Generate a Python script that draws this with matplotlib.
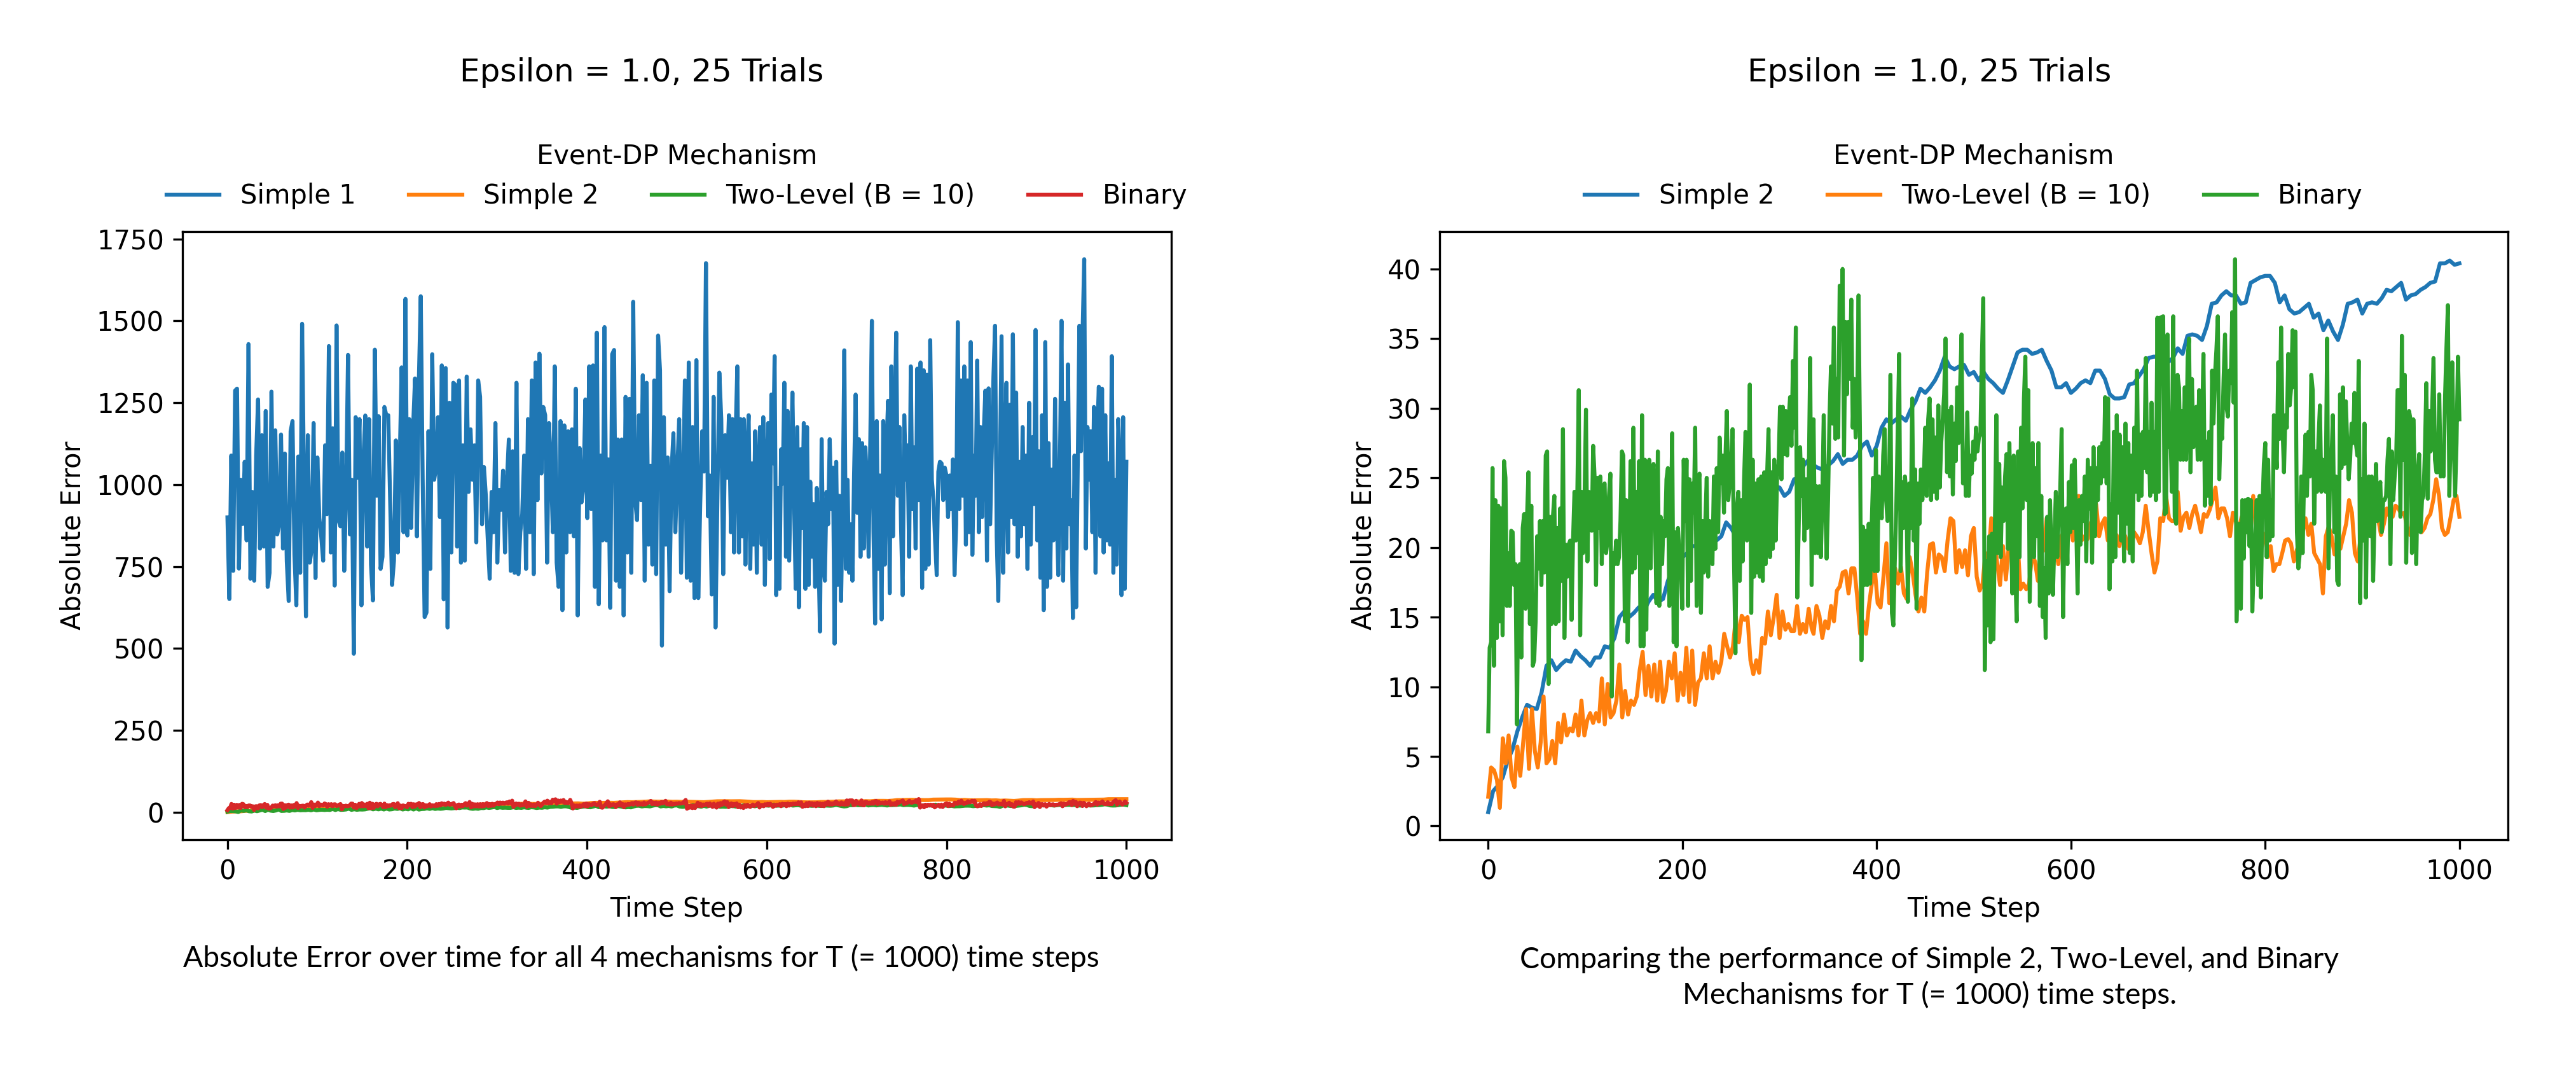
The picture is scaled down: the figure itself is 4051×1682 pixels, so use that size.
import numpy as np
import matplotlib.pyplot as plt

# Simple 1 (left panel only), read in two pieces: t 0-560 and t 560-1000
simple1_a = [900, 651, 1089, 737, 1287, 1293, 744, 1015, 880, 1070, 830, 1429, 713, 978, 707, 1089, 1260, 805,
             1151, 811, 1225, 688, 731, 1284, 811, 1166, 848, 879, 1153, 805, 1095, 766, 645, 1163, 1194, 787,
             632, 1086, 731, 1491, 1003, 598, 1151, 762, 803, 1188, 715, 1083, 898, 842, 768, 1120, 910, 1423,
             793, 1172, 692, 1486, 892, 873, 1098, 737, 978, 1396, 848, 1015, 484, 1206, 1021, 1200, 632, 1070,
             1211, 811, 1200, 756, 647, 1412, 966, 1209, 743, 780, 1237, 1212, 1212, 953, 694, 768, 1135, 793,
             1070, 1358, 855, 1567, 845, 1200, 868, 1176, 1324, 842, 1318, 1575, 1015, 596, 610, 1163, 743, 1398,
             1015, 1052, 1206, 901, 1364, 650, 1356, 564, 1250, 793, 1311, 1305, 811, 1318, 762, 1120, 768, 1330,
             978, 1169, 1015, 1120, 824, 1318, 1268, 879, 1054, 966, 833, 713, 978, 855, 1188, 762, 984, 923,
             1043, 793, 1009, 1138, 737, 1102, 731, 1311, 727, 855, 910, 1089, 743, 1200, 855, 1318, 727, 1373,
             953, 1400, 1034, 1237, 1212, 762, 1188, 1058, 855, 1361, 762, 688, 1194, 617, 1181, 793, 1163, 855,
             1169, 842, 1293, 601, 1112, 946, 994, 1260, 898, 1361, 926, 1364, 688, 1464, 635, 1089, 830, 1481,
             830, 1077, 624, 1398, 1411, 707, 1138, 688, 1138, 601, 1268, 793, 1262, 731, 1558, 953, 892, 1212,
             953, 1334, 707, 1311, 817, 1058, 756, 1318, 727, 1455, 1349, 509, 1206, 817, 1083, 675, 1040, 1157,
             855, 1040, 1200, 731, 997, 1318, 716, 1373, 707, 1176, 654, 1380, 654, 941, 1163, 1040, 1676, 904,
             1028, 665, 1268, 564, 966, 1342, 1200, 727, 1151, 1021, 1212, 879]
simple1_b = [855, 1200, 793, 1163, 1361, 793, 1200, 842, 1200, 756, 1102, 1212, 743, 1065, 817, 1163, 731, 1040,
             1176, 817, 1206, 694, 1065, 1188, 773, 1275, 1065, 1392, 663, 990, 682, 1108, 1003, 1311, 780, 1225,
             768, 1028, 1281, 953, 682, 1176, 626, 1108, 868, 1188, 682, 1176, 694, 1009, 780, 941, 688, 990,
             793, 552, 1139, 756, 707, 978, 879, 1139, 926, 1052, 515, 1070, 694, 966, 645, 932, 1410, 743,
             1015, 731, 879, 707, 1028, 1275, 914, 1139, 780, 1127, 805, 1114, 1003, 780, 1127, 1500, 855, 576,
             1194, 743, 1028, 589, 1194, 756, 1114, 1256, 669, 1361, 842, 1176, 1464, 966, 1176, 868, 663, 1212,
             1015, 1120, 780, 1361, 926, 1114, 805, 1354, 953, 1373, 685, 1349, 743, 1336, 756, 1441, 1015, 953,
             830, 724, 1040, 1070, 1065, 953, 1052, 1028, 901, 1028, 926, 1077, 724, 879, 1496, 926, 1318, 966,
             1361, 817, 1318, 855, 1435, 786, 1089, 966, 1379, 855, 1176, 901, 1157, 1287, 768, 1294, 879, 1102,
             1330, 1485, 842, 645, 1052, 1453, 731, 1065, 1311, 793, 1244, 901, 1459, 879, 1281, 780, 1070, 842,
             1176, 879, 1089, 743, 1250, 817, 1145, 941, 1472, 830, 1102, 716, 1212, 617, 1435, 688, 1127, 716,
             1046, 830, 1262, 926, 724, 1065, 1500, 707, 1250, 805, 1367, 879, 953, 593, 1089, 626, 1065, 1485,
             1102, 1466, 1688, 805, 1176, 1015, 1163, 855, 1237, 731, 1151, 1299, 842, 1293, 793, 1212, 830, 1065,
             817, 1392, 731, 1015, 756, 1200, 1052, 663, 1206, 682, 1070]

# Simple 2, every 5 time steps (t = 0, 5, ..., 1000)
simple2 = [1.0, 2.5, 2.9, 3.5, 4.7, 5.5, 6.8, 7.8, 8.7, 8.5, 8.4, 9.6, 11.5, 11.9, 11.2, 11.6, 11.9, 11.8, 12.6, 12.2,
           11.9, 11.5, 12.1, 12.1, 12.9, 12.8, 13.5, 15.0, 15.4, 15.0, 15.3, 15.7, 15.4, 16.1, 16.6, 16.1, 16.3, 17.6,
           18.5, 18.5, 19.3, 19.6, 20.1, 20.1, 20.3, 20.5, 20.5, 20.5, 20.8, 21.8, 21.4, 20.8, 20.8, 20.6, 20.8, 23.1,
           23.7, 24.1, 24.6, 24.4, 24.3, 23.7, 24.0, 24.9, 25.0, 25.9, 26.3,
           25.9, 25.7, 25.6, 25.9, 26.2, 26.7, 26.0, 26.3, 26.3, 26.6, 27.3, 27.6, 26.6, 27.3, 28.6, 29.2, 28.9, 29.2,
           29.4, 29.1, 29.9, 30.5, 31.4, 31.1, 31.5, 32.0, 32.7, 33.7, 33.0, 32.8, 33.0, 33.1, 32.4, 32.6, 32.0, 32.6,
           32.1, 31.8, 31.4, 31.1, 32.0, 33.0, 34.0, 34.2, 34.2, 33.9, 34.0, 34.2, 33.4, 32.7, 31.5, 31.5, 31.8, 31.1,
           31.4, 31.8, 32.0, 31.8, 32.7, 32.7, 32.1, 31.0, 30.7, 30.7, 30.8, 31.7, 31.8, 32.3, 32.8, 33.6, 33.7, 33.7,
           33.7, 33.3, 33.6, 34.3, 33.9, 35.2, 35.3, 35.2, 34.9, 35.9, 37.5, 37.6, 38.1, 38.4, 38.1, 38.1, 37.5, 37.6,
           39.0, 39.2, 39.4, 39.5, 39.5, 39.0, 37.6, 38.1, 37.1, 36.8, 36.9, 37.2, 37.5, 36.5, 36.8, 35.6, 36.3, 35.5,
           34.9, 36.0, 37.5, 37.6, 37.8, 36.8, 37.5, 37.6, 37.5, 37.9, 38.5, 38.4, 38.7, 39.0, 37.8, 38.1, 38.2, 38.5,
           38.7, 39.0, 39.1, 40.4, 40.4, 40.6, 40.3, 40.4]

# Two-Level (B = 10), about every 3 steps, in three pieces
twolevel_a = [2.1, 4.2, 4.0, 3.3, 1.3, 6.3, 4.5, 6.5, 3.5, 2.8, 5.7, 3.6, 6.0, 8.4, 4.1, 8.4, 5.4, 4.2, 6.0, 9.3,
              4.5, 4.8, 6.1, 4.5, 7.4, 6.0, 8.0, 6.5, 7.0, 6.8, 8.0, 6.5, 9.0, 6.5, 7.6, 8.1, 7.4, 8.1, 7.5, 10.6,
              7.3, 10.2, 7.8, 8.1, 9.0, 11.6, 7.8, 9.7, 8.0, 9.0, 8.7, 9.3, 11.2, 12.5, 9.4, 11.5, 9.3, 11.6, 9.0, 11.8,
              8.9, 9.7, 11.8, 10.6, 12.4, 9.0, 11.0, 9.4, 12.8, 8.9, 12.6, 8.7, 10.3, 10.6, 12.4, 10.6, 12.9, 10.6,
              11.8, 11.0, 11.8, 13.8, 12.9, 12.1, 12.9, 15.0, 13.2, 15.1, 14.8, 15.0, 11.9, 10.9, 11.9, 11.0, 13.5,
              13.1, 15.4, 13.7, 15.0, 16.6, 13.5, 15.4, 14.1, 14.5, 14.0, 14.0, 15.8, 13.8, 14.5, 13.9, 15.6, 14.2]
twolevel_b = [13.8, 15.8, 15.1, 13.5, 14.7, 14.2, 15.8, 14.7, 16.9, 17.2, 18.2, 18.3, 16.7, 18.5, 18.5, 16.4, 13.8,
              14.7, 13.8, 15.8, 17.4, 18.5, 16.0, 15.7, 17.9, 20.3, 16.0, 17.6, 18.5, 17.4, 18.6, 16.7, 16.3, 19.3,
              18.2, 16.6, 15.4, 16.4, 15.4, 18.2, 20.2, 20.3, 18.2, 19.5, 19.3, 18.3, 20.5, 22.1, 21.9, 18.2, 19.8,
              18.6, 19.8, 18.0, 20.8, 21.4, 17.9, 16.9, 17.4, 19.6, 19.0, 22.1, 20.5, 18.9, 17.3, 20.1, 17.7, 20.1,
              21.7, 19.3, 20.5, 17.0, 17.4, 17.0, 17.4, 19.5, 19.0, 17.6, 19.6, 19.8, 22.1, 19.9, 18.5, 20.2, 18.8,
              20.8, 21.1, 20.5, 21.7, 20.5, 21.9, 23.7, 20.5, 20.8, 20.6, 21.7, 22.2, 23.1, 20.8, 21.7, 22.1, 20.5,
              20.8, 20.8, 20.9, 20.1, 21.2, 20.8, 19.9, 19.8, 21.1, 20.8, 20.3, 21.1, 23.0, 21.2, 19.6, 18.2, 19.0, 22.1]
twolevel_c = [21.9, 23.7, 22.1, 21.9, 21.9, 24.0, 21.2, 22.2, 22.5, 21.4, 22.4, 23.0, 22.1, 21.1, 22.4, 22.2, 22.7,
              23.4, 24.3, 22.1, 22.8, 22.8, 22.1, 20.8, 22.5, 21.9, 21.2, 22.2, 21.4, 21.2, 21.7, 23.7, 21.1, 21.1,
              21.1, 20.8, 19.3, 20.1, 18.3, 18.8, 18.8, 19.6, 20.5, 20.6, 20.3, 19.0, 19.8, 20.5, 21.1, 22.1, 20.9,
              21.7, 19.6, 19.2, 18.8, 16.7, 20.8, 21.5, 20.8, 19.5, 20.5, 19.9, 20.8, 21.7, 23.4, 22.5, 19.6, 19.0,
              20.8, 21.4, 20.8, 21.7, 21.9, 22.5, 22.1, 20.9, 21.7, 22.8, 22.2, 22.2, 23.0, 22.8, 22.4, 22.5, 21.4,
              20.9, 22.4, 21.8, 21.4, 21.1, 21.4, 22.1, 22.4, 23.4, 24.9, 23.7, 21.4, 20.9, 21.1, 22.2, 23.4, 23.7, 22.2]

# Binary, roughly every 1.5 steps, in three pieces
binary_a = [6.8, 12.8, 13.2, 25.7, 11.5, 23.4, 13.5, 23.0, 14.7, 22.8, 13.7, 26.2, 25.0, 15.8, 19.6, 15.8, 21.2, 21.1,
            17.3, 18.8, 7.3, 18.5, 18.8, 12.1, 21.4, 22.4, 15.6, 22.2, 25.4, 14.5, 23.0, 11.5, 11.9, 14.7, 20.8, 18.5,
            21.9, 17.3, 21.9, 18.2, 26.6, 26.9, 10.2, 22.2, 14.5, 22.2, 23.7, 14.5, 21.4, 14.7, 22.8, 17.6, 28.5, 13.5,
            20.2, 17.9, 20.2, 20.5, 14.8, 20.5, 24.0, 20.5, 24.0, 31.3, 13.7, 24.0, 19.6, 23.4, 29.9, 19.0, 24.0, 22.5,
            21.2, 27.3, 25.1, 17.3, 25.0, 21.4, 25.1, 18.8, 24.4, 24.6, 19.6, 20.5, 23.7, 25.3, 9.3, 19.6, 18.8, 20.5,
            18.8, 19.3, 21.9, 26.9, 26.6, 14.7, 23.4, 13.2, 18.2, 26.2, 18.2, 28.6, 18.5, 24.0, 19.6, 26.2, 12.9, 29.5,
            12.9, 26.3, 14.1, 23.7, 26.3, 18.5, 24.6, 26.0, 22.8, 16.0, 26.9, 15.8, 22.2, 18.8, 21.9, 20.8, 24.9, 25.7,
            15.8, 21.4, 28.2, 13.2, 21.1, 12.9, 21.4, 19.6, 18.8, 15.6, 26.3, 21.9, 26.3, 15.8, 24.9, 17.6, 24.6, 22.5,
            28.6, 15.8, 24.6, 25.3, 15.3, 21.9, 18.2, 21.7, 25.0, 17.9, 21.9, 20.8, 18.8, 25.1, 19.9, 25.7, 21.1, 27.9,
            24.6, 26.6, 22.5, 26.3, 29.8, 23.4, 24.6, 26.3, 28.5, 19.0, 12.4, 22.8, 24.0, 17.6, 23.4, 19.0, 24.9, 28.3,
            20.5, 23.4, 31.7, 15.3, 26.3, 17.9, 24.6, 18.2, 24.9, 17.9, 25.1, 17.6, 25.4, 18.8, 25.1, 28.5, 19.3, 25.4,
            19.9, 26.3, 20.5, 25.1, 26.0, 30.1, 24.9, 30.1, 26.7, 29.8, 26.6, 29.2, 30.8, 27.3, 33.4, 28.6, 35.8, 16.4,
            21.4, 27.2, 23.7, 26.3, 20.5, 24.9, 21.4, 25.1, 33.6, 17.3]
binary_b = [29.2, 19.6, 24.4, 19.6, 24.4, 19.3, 23.4, 29.5, 23.4, 19.2, 23.4, 29.5, 33.0, 28.9, 35.8, 27.8, 32.1, 27.9,
            38.8, 35.0, 40.0, 26.6, 36.2, 31.0, 36.2, 32.1, 37.8, 28.6, 32.1, 27.9, 30.1, 38.1, 28.1, 11.9, 21.5, 17.3,
            21.2, 17.3, 21.7, 17.4, 21.4, 25.0, 18.3, 27.0, 18.3, 25.1, 23.7, 22.1, 26.6, 28.5, 23.4, 21.9, 23.4, 32.4,
            15.3, 14.4, 19.0, 22.8, 28.3, 33.9, 18.3, 24.7, 21.4, 25.1, 23.7, 16.1, 24.6, 21.4, 30.7, 20.5, 25.6, 15.6,
            24.6, 21.7, 25.6, 23.4, 25.1, 28.6, 23.7, 29.2, 30.7, 23.4, 29.2, 24.0, 27.9, 23.5, 30.2, 24.3, 27.5, 29.2,
            31.0, 35.0, 25.4, 29.8, 25.1, 30.1, 23.8, 28.9, 26.2, 31.5, 27.5, 31.5, 35.3, 24.6, 26.6, 23.7, 29.7, 23.7,
            26.6, 25.3, 27.6, 26.3, 28.6, 26.9, 27.9, 28.1, 33.6, 37.9, 11.2, 19.0, 14.4, 20.8, 13.2, 21.0, 13.4, 21.7,
            29.5, 19.6, 26.0, 19.3, 24.3, 21.9, 25.1, 26.7, 19.9, 27.5, 21.8, 16.7, 26.6, 18.5, 14.7, 26.9, 19.3, 28.6,
            22.8, 30.7, 33.7, 23.4, 31.3, 16.1, 21.9, 27.5, 19.3, 25.7, 20.8, 27.5, 15.8, 23.7, 15.0, 18.5, 13.5, 22.2,
            16.7, 23.4, 19.3, 16.6, 20.5, 24.0, 19.3, 22.2, 24.0, 28.5, 15.0, 22.2, 22.8, 18.8, 24.7, 21.1, 25.9, 21.4,
            26.3, 21.9, 16.7, 23.4, 20.2, 23.7, 21.9, 25.1, 19.0, 26.3, 22.8, 25.7, 18.9, 27.2, 20.8, 25.7, 23.4, 27.2,
            24.6, 27.5, 25.1, 30.8, 24.6, 30.7, 17.0, 23.1, 19.0, 28.3, 19.3, 29.5, 22.5, 28.1, 20.5, 27.2, 19.0, 28.9,
            21.7, 27.5, 19.6, 26.6, 19.0, 28.6, 24.0, 32.7, 23.4, 28.1, 23.7, 28.3, 25.7, 33.6, 25.4, 28.3, 23.7, 30.4,
            24.0, 28.3, 23.4, 36.5, 24.0, 36.5]
binary_c = [36.6, 22.4, 22.5, 35.3, 27.2, 28.6, 24.0, 36.6, 22.2, 21.7, 32.4, 31.5, 26.3, 29.8, 26.3, 31.5, 26.3, 33.6,
            35.0, 25.4, 32.1, 27.2, 29.2, 30.1, 26.3, 31.3, 26.3, 28.6, 33.9, 23.0, 27.6, 23.7, 28.3, 23.1, 32.7, 28.9,
            32.4, 34.2, 36.6, 24.9, 28.6, 27.8, 32.1, 35.3, 30.1, 29.4, 32.7, 31.8, 36.9, 30.4, 40.7, 14.7, 18.8, 21.7,
            15.6, 23.4, 19.2, 23.4, 21.1, 23.5, 20.1, 23.4, 15.4, 18.8, 20.8, 23.4, 17.3, 23.7, 16.4, 22.8, 26.0, 27.5,
            19.3, 26.3, 20.5, 23.4, 20.8, 29.5, 28.1, 25.7, 33.3, 27.8, 35.8, 28.6, 25.4, 29.5, 28.6, 33.9, 30.2, 31.5,
            35.6, 31.5, 35.5, 21.1, 18.5, 19.6, 25.1, 19.6, 25.1, 28.1, 23.7, 28.3, 25.1, 32.4, 31.3, 21.7, 26.9, 24.0,
            27.8, 30.2, 24.0, 26.3, 24.9, 24.0, 35.0, 18.5, 24.9, 26.3, 29.5, 21.1, 25.1, 17.6, 17.3, 31.0, 25.7, 31.5,
            26.0, 30.5, 27.5, 24.9, 26.3, 28.9, 27.5, 31.1, 27.5, 26.6, 33.4, 16.0, 24.9, 20.5, 28.9, 16.4, 24.9, 25.1,
            20.8, 25.1, 17.6, 22.2, 26.0, 21.9, 24.0, 24.7, 21.1, 23.4, 23.4, 23.7, 26.3, 27.8, 18.8, 26.9, 23.4, 25.1,
            26.3, 31.3, 31.3, 22.2, 35.2, 26.3, 32.4, 18.9, 25.1, 29.8, 29.2, 19.6, 29.2, 25.1, 18.8, 24.9, 26.7, 21.1,
            23.4, 23.7, 26.9, 31.8, 23.5, 29.8, 26.9, 29.8, 33.6, 26.3, 25.4, 25.4, 31.0, 25.1, 26.9, 25.1, 30.8, 34.4,
            37.4, 23.7, 28.6, 33.3, 27.5, 23.7, 27.5, 33.7, 29.2]

simple1_span = [(0, 560), (560, 1000)]
twolevel_span = [(0, 333), (335, 692), (695, 1000)]
binary_span = [(0, 333), (335, 692), (695, 1000)]

title = 'Epsilon = 1.0, 25 Trials'
caption_left = 'Absolute Error over time for all 4 mechanisms for T (= 1000) time steps'
caption_right = 'Comparing the performance of Simple 2, Two-Level, and Binary\nMechanisms for T (= 1000) time steps.'


def join_pieces(pieces, spans):
    xs, ys = [], []
    for vals, (t0, t1) in zip(pieces, spans):
        xs.append(np.linspace(t0, t1, len(vals)))
        ys.append(np.asarray(vals, dtype=float))
    return np.concatenate(xs), np.concatenate(ys)


t_s1, v_s1 = join_pieces([simple1_a, simple1_b], simple1_span)
t_s2 = np.arange(0, 1001, 5)
t_tl, v_tl = join_pieces([twolevel_a, twolevel_b, twolevel_c], twolevel_span)
t_bi, v_bi = join_pieces([binary_a, binary_b, binary_c], binary_span)

W, H = 4051, 1682
fig = plt.figure(figsize=(W / 300, H / 300), dpi=300)
ax1 = fig.add_axes([287 / W, 1 - 1320 / H, 1555 / W, 956 / H])
ax2 = fig.add_axes([2264 / W, 1 - 1320 / H, 1680 / W, 956 / H])

lw = 1.5
ax1.plot(t_s1, v_s1, lw=lw, label='Simple 1')
ax1.plot(t_s2, simple2, lw=lw, label='Simple 2')
ax1.plot(t_tl, v_tl, lw=lw, label='Two-Level (B = 10)')
ax1.plot(t_bi, v_bi, lw=lw, label='Binary')

ax2.plot(t_s2, simple2, lw=lw, label='Simple 2')
ax2.plot(t_tl, v_tl, lw=lw, label='Two-Level (B = 10)')
ax2.plot(t_bi, v_bi, lw=lw, label='Binary')

for ax, ncol in [(ax1, 4), (ax2, 3)]:
    ax.set_xlabel('Time Step')
    ax.set_ylabel('Absolute Error')
    ax.legend(title='Event-DP Mechanism', loc='lower center', bbox_to_anchor=(0.5, 0.997),
              ncol=ncol, frameon=False)

fig.text(0.249, 1 - 114 / H, title, ha='center', va='center', fontsize=12)
fig.text(0.749, 1 - 114 / H, title, ha='center', va='center', fontsize=12)

fig.text(0.249, 1 - 1506 / H, caption_left, ha='center', va='center', fontsize=11.1, family='Lato')
fig.text(0.749, 1 - 1537 / H, caption_right, ha='center', va='center', fontsize=11.1, family='Lato',
         linespacing=1.35)

fig.savefig('out.png', dpi=300)
